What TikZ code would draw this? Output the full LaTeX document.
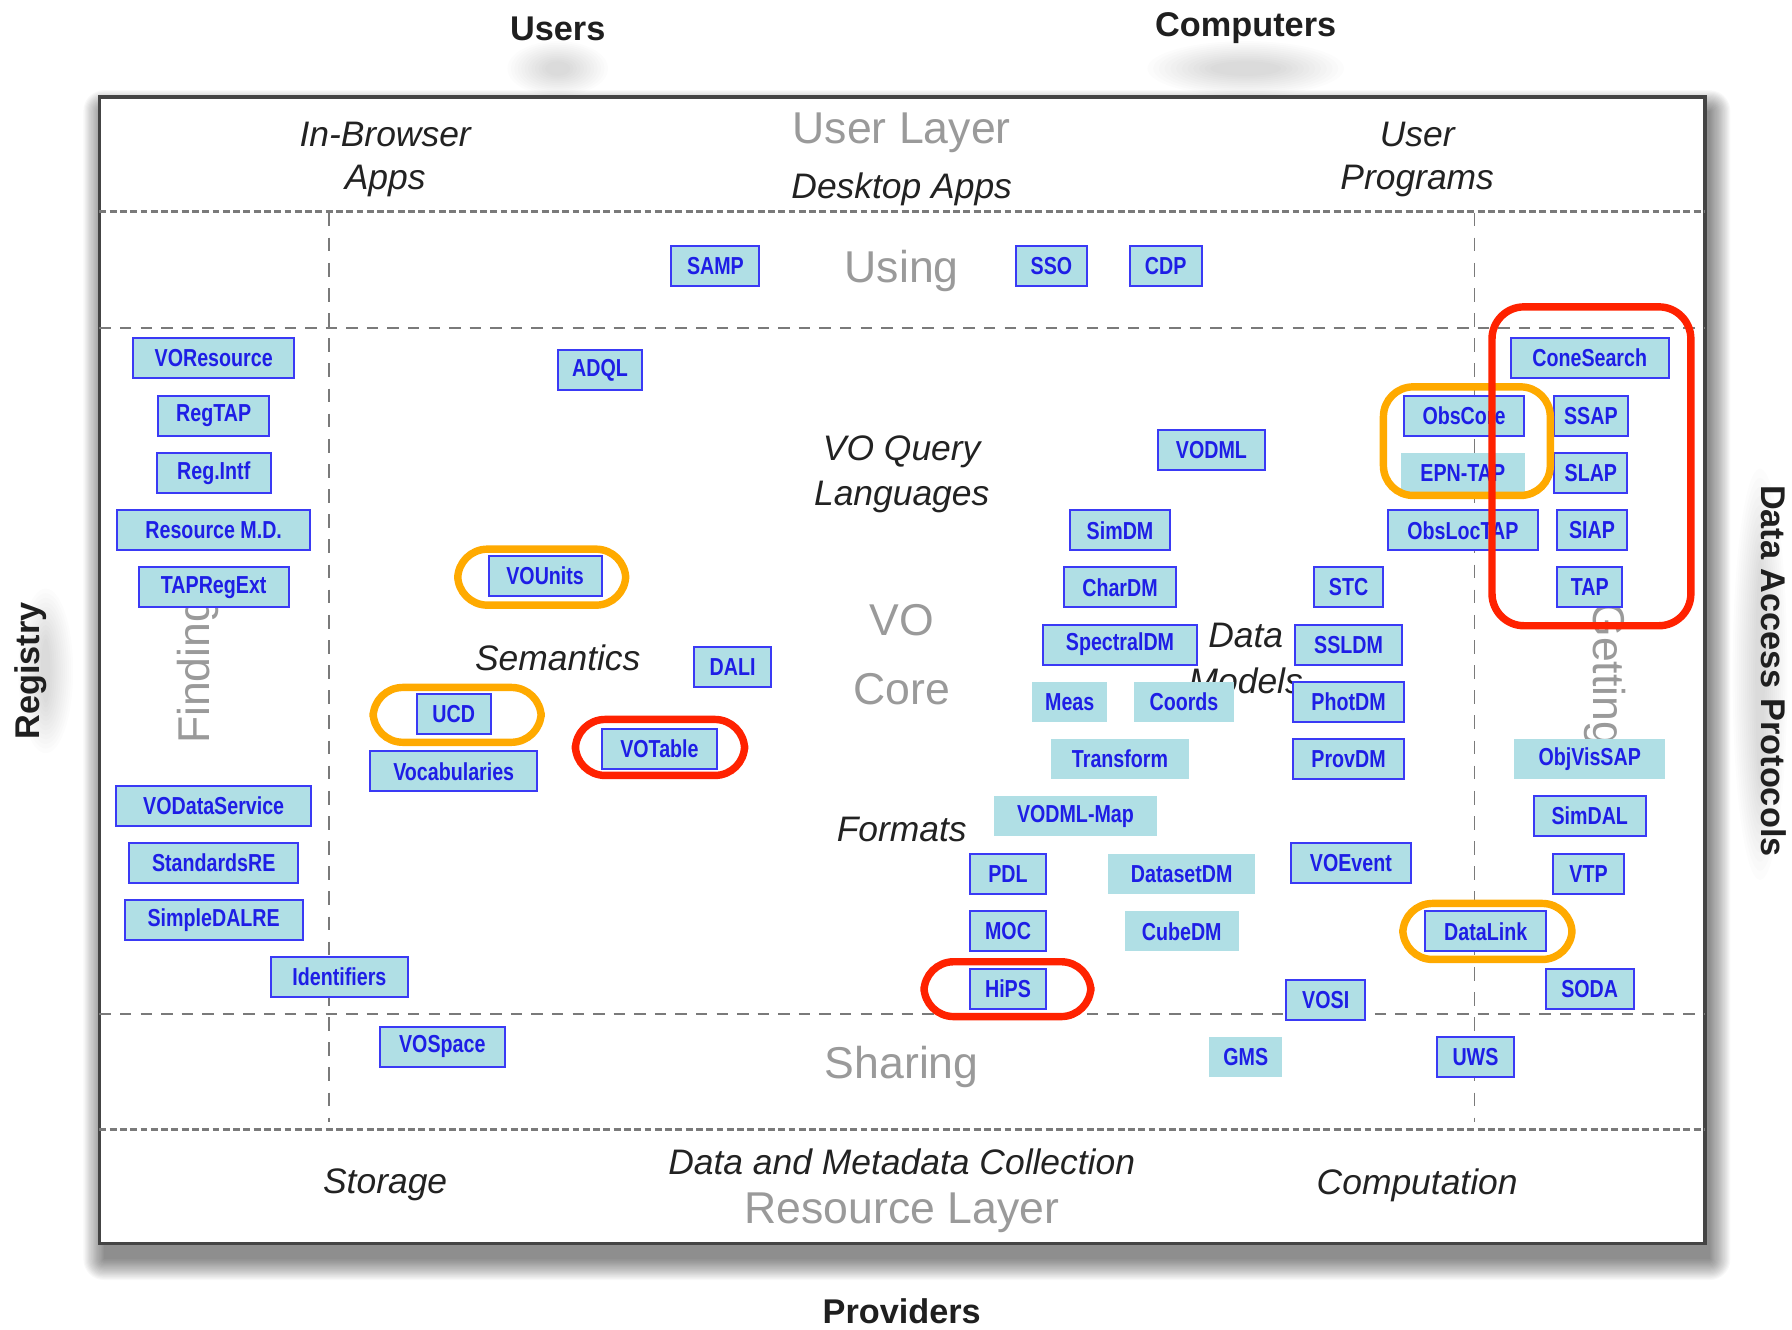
\documentclass[tikz,border=0pt]{standalone}
\usepackage{fontspec}
\setmainfont{Liberation Sans}
\usepackage{graphicx}
\definecolor{boxfill}{HTML}{B0DFE5}
\definecolor{boxline}{HTML}{3A3AF5}
\definecolor{boxtext}{HTML}{1E1EE6}
\definecolor{hred}{HTML}{FF2200}
\definecolor{horange}{HTML}{FFAA00}
\definecolor{labgray}{HTML}{9A9A9A}
\definecolor{labdark}{HTML}{222222}
\definecolor{framecol}{HTML}{444444}
\definecolor{dashcol}{HTML}{7A7A7A}
\newcommand\fsz[1]{\fontsize{#1}{#1}\selectfont}
\newcommand\bxt[1]{\scalebox{0.8}[1]{#1}}
\tikzset{
  vobox/.style={draw=boxline, line width=1.8pt, fill=boxfill, text=boxtext,
    font=\fsz{21.5}\bfseries, minimum height=35pt, inner sep=0pt},
  vonb/.style={fill=boxfill, text=boxtext,
    font=\fsz{21.5}\bfseries, minimum height=35pt, inner sep=0pt},
  graylab/.style={text=labgray, font=\fsz{39}, inner sep=0pt},
  itlab/.style={text=labdark, font=\fsz{31}\itshape, inner sep=0pt},
  boldlab/.style={text=black!88, font=\fsz{30}\bfseries, inner sep=0pt},
  hlred/.style={draw=hred, line width=6.5pt, rounded corners=26pt},
  hlorange/.style={draw=horange, line width=6.5pt, rounded corners=26pt},
  thickdash/.style={draw=dashcol, line width=2.6pt, dash pattern=on 6pt off 3pt},
  thindash/.style={draw=dashcol, line width=1.8pt, dash pattern=on 10pt off 8pt},
  vdash/.style={draw=dashcol, line width=1.4pt, dash pattern=on 12pt off 10pt},
}
\begin{document}
\begin{tikzpicture}[x=1pt,y=-1pt]
\useasboundingbox (0,0) rectangle (1568,1163);
\fill[white] (0,0) rectangle (1568,1163);

% soft text shadows
\foreach \i in {0,...,11}{
  \fill[black,opacity=0.012] (488,60) ellipse ({44-3*\i} and {24-1.6*\i});
  \fill[black,opacity=0.012] (1090,60) ellipse ({86-5*\i} and {24-1.6*\i});
  \fill[black,opacity=0.01] (40,587) ellipse ({24-1.8*\i} and {72-4*\i});
  \fill[black,opacity=0.01] (1540,590) ellipse ({24-1.8*\i} and {180-8*\i});
}

% frame shadow
\foreach \i in {0,...,18}{
  \fill[black,opacity=0.028,rounded corners=\i pt] (91-\i,97-\i) rectangle (1496+\i,1102+\i);
}
\draw[framecol, line width=3pt, fill=white] (87,85) rectangle (1492,1088);

% dashed grid
\draw[thickdash] (87,185) -- (1492,185);
\draw[thickdash] (87,988) -- (1492,988);
\draw[thindash] (87,287) -- (1492,287);
\draw[thindash] (87,887) -- (1492,887);
\draw[vdash] (288,186) -- (288,982);
\draw[vdash] (1290,186) -- (1290,982);

% outer labels
\node[boldlab] (users) at (488,25) {Users};
\node[boldlab] (computers) at (1090,25) {Computers};
\node[boldlab] (providers) at (789,1147) {Providers};
\node[boldlab, rotate=90] (registry) at (27,587) {Registry};
\node[boldlab, rotate=-90] (dap) at (1552,587) {Data Access Protocols};

% area labels
\node[itlab] (inbrowser) at (337,118) {In-Browser};
\node[itlab] (apps) at (337,158) {Apps};
\node[graylab] (userlayer) at (789,116) {User Layer};
\node[itlab] (desktop) at (789,166) {Desktop Apps};
\node[itlab] (user) at (1240,118) {User};
\node[itlab] (programs) at (1240,158) {Programs};
\node[graylab] (using) at (789,237) {Using};
\node[itlab] (voquery) at (789,395) {VO Query};
\node[itlab] (languages) at (789,435) {Languages};
\node[graylab] (vo) at (789,543) {VO};
\node[graylab] (core) at (789,603) {Core};
\node[itlab] (semantics) at (488,576) {Semantics};
\node[itlab] (data) at (1090,556) {Data};
\node[itlab] (models) at (1090,596) {Models};
\node[itlab] (formats) at (789,726) {Formats};
\node[graylab] (sharing) at (789,934) {Sharing};
\node[graylab, rotate=90] (finding) at (173,587) {Finding};
\node[graylab, rotate=-90] (getting) at (1404,590) {Getting};
\node[itlab] (storage) at (337,1037) {Storage};
\node[itlab] (dmc) at (789,1017) {Data and Metadata Collection};
\node[graylab] (reslayer) at (789,1061) {Resource Layer};
\node[itlab] (computation) at (1240,1037) {Computation};

% left column
\node[vobox, minimum width=141pt] (voresource) at (187,313) {\bxt{VOResource}};
\node[vobox, minimum width=97pt] (regtap) at (187,364) {\bxt{RegTAP}};
\node[vobox, minimum width=100pt] (regintf) at (187,414) {\bxt{Reg.Intf}};
\node[vobox, minimum width=169pt] (resmd) at (187,464) {\bxt{Resource M.D.}};
\node[vobox, minimum width=131pt] (tapregext) at (187,514) {\bxt{TAPRegExt}};
\node[vobox, minimum width=171pt] (vodataservice) at (187,705) {\bxt{VODataService}};
\node[vobox, minimum width=148pt] (standardsre) at (187,755) {\bxt{StandardsRE}};
\node[vobox, minimum width=156pt] (simpledalre) at (187,805) {\bxt{SimpleDALRE}};
\node[vobox, minimum width=120pt] (identifiers) at (297,855) {\bxt{Identifiers}};

% middle
\node[vobox, minimum width=77pt] (samp) at (626,233) {\bxt{SAMP}};
\node[vobox, minimum width=62pt] (sso) at (920,233) {\bxt{SSO}};
\node[vobox, minimum width=63pt] (cdp) at (1020,233) {\bxt{CDP}};
\node[vobox, minimum width=74pt] (adql) at (525,324) {\bxt{ADQL}};
\node[vobox, minimum width=99pt] (vounits) at (477,504) {\bxt{VOUnits}};
\node[vobox, minimum width=67pt] (dali) at (641,584) {\bxt{DALI}};
\node[vobox, minimum width=65pt] (ucd) at (397,625) {\bxt{UCD}};
\node[vobox, minimum width=146pt] (vocab) at (397,675) {\bxt{Vocabularies}};
\node[vobox, minimum width=100pt] (votable) at (577,655) {\bxt{VOTable}};
\node[vobox, minimum width=109pt] (vospace) at (387,916) {\bxt{VOSpace}};

% centre-right
\node[vobox, minimum width=93pt] (vodml) at (1060,394) {\bxt{VODML}};
\node[vobox, minimum width=88pt] (simdm) at (980,464) {\bxt{SimDM}};
\node[vobox, minimum width=98pt] (chardm) at (980,514) {\bxt{CharDM}};
\node[vobox, minimum width=134pt] (spectraldm) at (980,564) {\bxt{SpectralDM}};
\node[vonb, minimum width=66pt] (meas) at (936,614) {\bxt{Meas}};
\node[vonb, minimum width=87pt] (coords) at (1036,614) {\bxt{Coords}};
\node[vonb, minimum width=120pt] (transform) at (980,664) {\bxt{Transform}};
\node[vonb, minimum width=143pt] (vodmlmap) at (941,714) {\bxt{VODML-Map}};
\node[vobox, minimum width=66pt] (pdl) at (882,765) {\bxt{PDL}};
\node[vonb, minimum width=129pt] (datasetdm) at (1034,765) {\bxt{DatasetDM}};
\node[vobox, minimum width=66pt] (moc) at (882,815) {\bxt{MOC}};
\node[vonb, minimum width=100pt] (cubedm) at (1034,815) {\bxt{CubeDM}};
\node[vobox, minimum width=66pt] (hips) at (882,865) {\bxt{HiPS}};
\node[vobox, minimum width=61pt] (stc) at (1180,514) {\bxt{STC}};
\node[vobox, minimum width=93pt] (ssldm) at (1180,564) {\bxt{SSLDM}};
\node[vobox, minimum width=97pt] (photdm) at (1180,614) {\bxt{PhotDM}};
\node[vobox, minimum width=97pt] (provdm) at (1180,664) {\bxt{ProvDM}};
\node[vobox, minimum width=105pt] (voevent) at (1182,755) {\bxt{VOEvent}};
\node[vobox, minimum width=69pt] (vosi) at (1160,875) {\bxt{VOSI}};
\node[vonb, minimum width=64pt] (gms) at (1090,925) {\bxt{GMS}};
\node[vobox, minimum width=68pt] (uws) at (1291,925) {\bxt{UWS}};
\node[vobox, minimum width=106pt] (datalink) at (1300,815) {\bxt{DataLink}};

% right column
\node[vobox, minimum width=138pt] (conesearch) at (1391,313) {\bxt{ConeSearch}};
\node[vobox, minimum width=105pt] (obscore) at (1281,364) {\bxt{ObsCore}};
\node[vobox, minimum width=65pt] (ssap) at (1392,364) {\bxt{SSAP}};
\node[vonb, minimum width=109pt] (epntap) at (1280,414) {\bxt{EPN-TAP}};
\node[vobox, minimum width=64pt] (slap) at (1392,414) {\bxt{SLAP}};
\node[vobox, minimum width=131pt] (obsloctap) at (1280,464) {\bxt{ObsLocTAP}};
\node[vobox, minimum width=62pt] (siap) at (1393,464) {\bxt{SIAP}};
\node[vobox, minimum width=57pt] (tap) at (1391,514) {\bxt{TAP}};
\node[vonb, minimum width=132pt] (objvissap) at (1391,664) {\bxt{ObjVisSAP}};
\node[vobox, minimum width=98pt] (simdal) at (1391,714) {\bxt{SimDAL}};
\node[vobox, minimum width=62pt] (vtp) at (1390,765) {\bxt{VTP}};
\node[vobox, minimum width=77pt] (soda) at (1391,865) {\bxt{SODA}};

% highlights
\draw[hlorange] (1210.5,338.5) rectangle (1356.5,433.5);
\draw[hlorange] (400.5,480.5) rectangle (547.5,529.5);
\draw[hlorange] (326.5,601.5) rectangle (473.5,649.5);
\draw[hlorange] (1227.5,790.5) rectangle (1375.5,839.5);
\draw[hlred] (503.5,629.5) rectangle (651.5,678.5);
\draw[hlred] (808.5,841.5) rectangle (954.5,889.5);
\draw[hlred, rounded corners=28pt] (1305.5,268.5) rectangle (1479.5,547.5);
\end{tikzpicture}
\end{document}
